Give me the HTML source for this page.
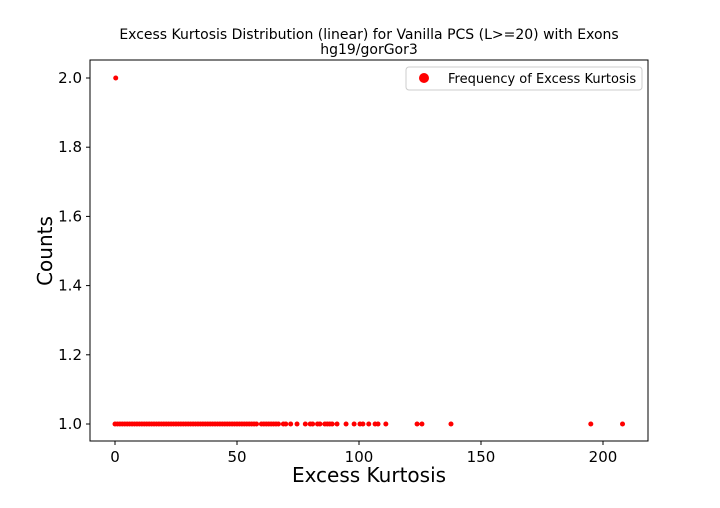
<!DOCTYPE html>
<html><head><meta charset="utf-8"><style>
body{margin:0;background:#fff;font-family:"DejaVu Sans","Liberation Sans",sans-serif}
svg text{font-family:"DejaVu Sans","Liberation Sans",sans-serif}
</style></head><body>
<svg id="c" width="720" height="504" xmlns="http://www.w3.org/2000/svg">
<text x="369" y="39" text-anchor="middle" font-size="14">Excess Kurtosis Distribution (linear) for Vanilla PCS (L&gt;=20) with Exons</text>
<text x="369" y="54" text-anchor="middle" font-size="14">hg19/gorGor3</text>
<rect x="90" y="60" width="558" height="381" fill="none" stroke="#000" stroke-width="1"/>
<g id="ticks"></g>
<g id="pts"></g>
<text x="369" y="482" text-anchor="middle" font-size="20">Excess Kurtosis</text>
<text transform="translate(52,251) rotate(-90)" text-anchor="middle" font-size="20">Counts</text>
<g>
<rect x="406" y="67" width="236" height="23" rx="3" fill="#fff" stroke="#ccc"/>
<circle cx="424" cy="78" r="5" fill="red"/>
<text x="448" y="83" font-size="13">Frequency of Excess Kurtosis</text>
</g>
</svg>
<script>
const xTicks=[0,50,100,150,200];
const yTicks=[1.0,1.2,1.4,1.6,1.8,2.0];
const kurtosis=[0,1,2,3,4,5,6,7,8,9,10,11,12,13,14,15,16,17,18,19,20,21,22,23,24,25,26,27,28,29,30,31,32,33,34,35,36,37,38,39,40,41,42,43,44,45,46,47,48,49,50,51,52,53,54,55,56,57,58,60,61,62,63,64,65,66,67,69,70,72,74.6,78,80,81,83,84,86,87,88,89,91,94.7,98,100.4,101.6,104,106.6,107.8,111,123.8,125.8,137.7,195,208,0.3];
const counts=[];
for(let i=0;i<kurtosis.length;i++)counts.push(1);
counts[counts.length-1]=2;
const sx=v=>115+v*2.44;
const sy=v=>424-(v-1)*346;
const NS="http://www.w3.org/2000/svg";
const tg=document.getElementById('ticks'), pg=document.getElementById('pts');
xTicks.forEach(t=>{
 const l=document.createElementNS(NS,'line');
 l.setAttribute('x1',sx(t));l.setAttribute('x2',sx(t));l.setAttribute('y1',441);l.setAttribute('y2',445);l.setAttribute('stroke','#000');
 
 
 tg.appendChild(l);
 const s=document.createElementNS(NS,'text');
 s.setAttribute('x',sx(t));s.setAttribute('y',462);s.setAttribute('text-anchor','middle');s.setAttribute('font-size','15');
 s.textContent=t;
 
 
 tg.appendChild(s);
});
yTicks.forEach(t=>{
 const l=document.createElementNS(NS,'line');
 l.setAttribute('x1',86);l.setAttribute('x2',90);l.setAttribute('y1',sy(t));l.setAttribute('y2',sy(t));l.setAttribute('stroke','#000');
 
 
 tg.appendChild(l);
 const s=document.createElementNS(NS,'text');
 s.setAttribute('x',82);s.setAttribute('y',sy(t)+5);s.setAttribute('text-anchor','end');s.setAttribute('font-size','15');
 s.textContent=t.toFixed(1);
 
 
 tg.appendChild(s);
});
kurtosis.forEach((k,i)=>{
 const c=document.createElementNS(NS,'circle');
 c.setAttribute('cx',sx(k));c.setAttribute('cy',sy(counts[i]));c.setAttribute('r',2.5);c.setAttribute('fill','red');
 
 
 pg.appendChild(c);
});
</script>
</body></html>
